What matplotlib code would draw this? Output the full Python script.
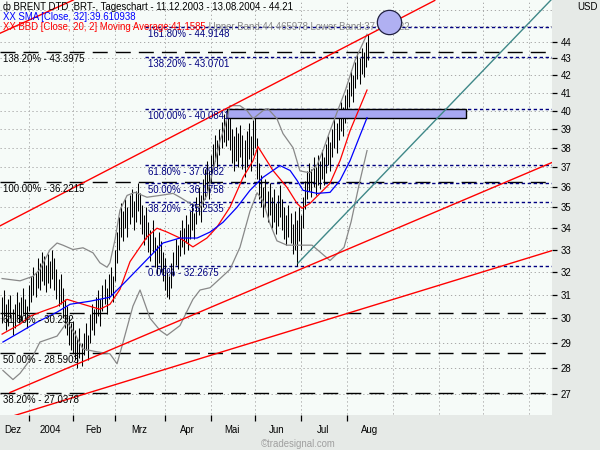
import numpy as np
import matplotlib
matplotlib.use('Agg')
import matplotlib.pyplot as plt
from matplotlib.patches import Rectangle
from matplotlib.ticker import FixedLocator, NullLocator

plt.rcParams['font.family'] = ['Liberation Sans', 'DejaVu Sans']
FS = 6.9

# daily bars 11.12.2003 - 13.08.2004, one entry per trading day
highs = [30.9, 31.2, 30.6, 30.8, 31.0, 30.4, 30.6, 31.1, 30.7, 30.9, 31.3, 30.8, 30.5,
         31.4, 31.8, 32.2, 32.0, 32.6, 32.4, 32.9, 32.7, 32.3, 32.8, 32.5, 33.0, 32.6, 32.1, 31.7, 31.9, 31.3, 30.8, 30.5, 30.1, 29.8,
         29.9, 29.5, 29.2, 29.6, 29.0, 29.4, 29.8, 29.3, 30.2, 30.6, 30.4, 30.9, 31.2, 30.8, 31.4, 31.7, 31.3, 31.9, 32.2, 31.8,
         33.0, 33.8, 34.5, 35.2, 34.8, 35.4, 35.0, 35.6, 35.9, 35.3, 35.8, 36.2, 35.7, 35.1, 34.6, 35.0, 34.3, 33.9, 34.4, 33.6, 33.2, 33.8, 33.4, 32.9,
         32.6, 32.0, 31.8, 32.4, 32.9, 33.5, 33.2, 33.9, 34.4, 34.0, 34.6, 34.2, 34.8, 35.2, 34.7, 35.5, 36.0, 35.6, 36.4, 36.9, 37.3, 36.8,
         37.6, 38.2, 38.7, 38.4, 39.0, 39.4, 39.8, 39.5, 40.08, 39.6, 39.0, 38.6, 39.1, 38.8, 39.2, 38.7, 38.4, 38.9, 39.3, 38.6, 39.5,
         40.0, 38.5, 37.2, 36.6, 36.0, 36.4, 35.8, 36.2, 35.5, 35.9, 35.2, 35.6, 36.1, 35.4, 35.0, 34.6, 35.1, 34.7, 34.2, 34.8, 34.4, 35.0,
         34.6, 35.5, 36.3, 36.8, 37.2, 36.9, 37.5, 37.0, 37.6, 37.3, 37.9, 37.5, 38.2, 38.6, 38.3, 39.0, 39.6, 39.3, 40.0, 40.5, 40.2, 40.9,
         41.2, 41.6, 42.3, 42.0, 42.8, 43.3, 43.0, 43.6, 43.4, 44.0, 44.5]
lows = [29.8, 30.1, 29.5, 29.7, 30.0, 29.3, 29.6, 30.0, 29.8, 29.9, 30.2, 29.9, 29.6,
        30.3, 30.7, 31.0, 30.9, 31.3, 31.2, 31.6, 31.4, 31.1, 31.5, 31.3, 31.7, 31.2, 30.8, 30.5, 30.6, 30.0, 29.6, 29.3, 28.9, 28.7,
        28.6, 28.3, 28.0, 28.4, 28.1, 28.5, 28.7, 28.3, 29.0, 29.5, 29.3, 29.8, 30.1, 29.7, 30.3, 30.6, 30.2, 30.8, 31.0, 30.7,
        31.6, 32.4, 33.0, 33.6, 33.4, 34.0, 33.6, 34.2, 34.5, 33.9, 34.3, 34.8, 34.2, 33.7, 33.2, 33.5, 32.9, 32.5, 32.9, 32.2, 31.9, 32.4, 32.0, 31.6,
        31.2, 30.9, 30.8, 31.3, 31.8, 32.3, 32.1, 32.7, 33.1, 32.8, 33.3, 33.0, 33.5, 33.9, 33.5, 34.2, 34.6, 34.3, 35.0, 35.4, 35.8, 35.4,
        36.2, 36.9, 37.3, 37.0, 37.6, 38.0, 38.3, 38.1, 38.4, 37.9, 37.2, 36.8, 37.3, 37.0, 37.5, 36.9, 36.5, 37.0, 37.4, 36.8, 37.6,
        38.0, 36.4, 35.4, 35.0, 34.5, 34.9, 34.3, 34.6, 34.0, 34.3, 33.7, 34.1, 34.5, 33.9, 33.5, 33.2, 33.6, 33.3, 32.8, 33.0, 32.27, 33.4,
        33.0, 34.0, 34.9, 35.4, 35.8, 35.5, 36.0, 35.6, 36.1, 35.9, 36.4, 36.1, 36.7, 37.1, 36.8, 37.5, 38.0, 37.7, 38.4, 38.9, 38.6, 39.3,
        39.6, 40.2, 40.8, 40.5, 41.3, 41.8, 41.5, 42.1, 41.9, 42.5, 42.9]

# indicator lines (trading day index, price)
sma_x = [0.4, 8.6, 16.7, 26.3, 32.5, 42.1, 51.6, 58.8, 67.4, 77.0, 85.1, 93.3, 99.5, 105.7,
         112.4, 118.6, 124.8, 133.0, 137.8, 141.1, 144.0, 150.7, 156.9, 161.7, 166.5, 171.2, 174.6]
sma_y = [29.03, 29.43, 29.84, 30.26, 30.59, 30.72, 30.89, 31.54, 32.36, 33.30, 33.53, 33.53, 33.81, 34.27,
         34.99, 35.82, 36.47, 37.07, 36.82, 36.32, 35.82, 35.67, 35.72, 36.32, 37.33, 38.64, 39.61]

bb_mid_x = [0.0, 8.6, 13.4, 19.6, 26.3, 31.1, 38.7, 46.8, 51.6, 56.4, 61.2, 69.3, 74.1, 78.9, 85.1,
            91.3, 98.0, 102.8, 109.0, 115.3, 120.1, 122.4, 129.6, 136.3, 141.1, 143.5, 147.3, 152.1,
            156.9, 161.7, 166.5, 174.6]
bb_mid_y = [29.35, 29.76, 30.09, 30.30, 30.51, 30.80, 30.59, 30.38, 30.59, 31.23, 32.45, 33.58, 33.99, 33.81, 33.53,
            33.12, 33.53, 34.04, 34.99, 36.47, 37.33, 38.06, 36.82, 35.97, 35.18, 34.94, 35.18, 35.67,
            36.17, 37.33, 38.91, 41.16]

bb_up_x = [0.0, 8.6, 14.8, 18.1, 22.9, 26.3, 29.1, 33.9, 38.7, 43.5, 46.8, 50.2, 51.6, 54.0, 56.4,
           59.8, 63.6, 69.3, 75.6, 81.8, 85.1, 89.9, 94.7, 98.0, 100.9, 104.3, 106.7, 109.0, 113.8, 117.2,
           120.1, 124.8, 127.2, 131.5, 134.4, 139.2, 142.5, 147.3, 150.7, 153.5, 156.9, 164.1, 168.9, 174.6]
bb_up_y = [31.7, 31.6, 31.8, 32.1, 32.99, 33.3, 33.2, 33.0, 33.08, 32.85, 32.4, 32.2, 32.4, 33.44, 34.85,
           35.57, 35.72, 35.48, 35.57, 35.67, 35.48, 35.18, 34.99, 35.57, 36.82, 38.38, 39.18, 40.28, 40.28, 40.0,
           39.56, 40.0, 40.11, 39.56, 38.75, 38.0, 36.8, 36.7, 37.1, 37.85, 38.9, 41.1, 42.9, 44.47]

bb_lo_x = [0.4, 5.2, 8.6, 14.8, 18.1, 26.3, 31.1, 34.9, 38.7, 45.4, 51.6, 55.0, 57.9, 62.6, 66.0,
           70.8, 75.6, 78.9, 85.1, 91.3, 94.7, 99.5, 104.3, 109.0, 113.8, 118.6, 122.0, 124.8, 128.2,
           131.5, 136.3, 141.1, 148.3, 156.9, 163.6, 167.0, 171.0, 174.6]
bb_lo_y = [27.91, 27.56, 27.80, 28.48, 29.03, 29.27, 29.84, 29.35, 28.75, 28.64, 28.56, 28.17, 29.03, 30.51, 31.2,
           30.0, 29.5, 29.3, 29.7, 30.8, 31.2, 31.3, 31.7, 32.1, 33.1, 34.8, 35.7, 35.3, 34.2,
           33.4, 33.2, 33.2, 33.2, 32.5, 33.1, 34.3, 36.2, 37.85]

# fibonacci retracement levels
fib_black_pct = ['138.20%', '100.00%', '61.80%', '50.00%', '38.20%']
fib_black_val = [43.3975, 36.2215, 30.232, 28.5903, 27.0378]
fib_navy_pct = ['161.80%', '138.20%', '100.00%', '61.80%', '50.00%', '38.20%', '0.00%']
fib_navy_val = [44.9148, 43.0701, 40.0841, 37.0982, 36.1758, 35.2535, 32.2675]
fib_navy_start = 68.4

# drawn trend lines: (day0, price0, day1, price1)
red_lines = [(-1.0, 34.1, 207.0, 46.6),
             (-1.0, 44.53, 34.1, 46.63),
             (3.8, 27.07, 263.1, 37.23),
             (3.8, 26.17, 263.1, 32.95)]
teal_line = (141.6, 32.39, 262.6, 46.63)

# marked zones
box = (107.6, 39.57, 222.0, 40.12)
circle = (184.9, 45.22)

month_starts = [13, 34, 54, 78, 100, 121, 143, 165]
future_months = [187, 209, 230, 252]
month_centres = [5.1, 23, 43.5, 65.5, 88.5, 110, 131.5, 153.5, 176]
month_names = ['Dez', '2004', 'Feb', 'Mrz', 'Apr', 'Mai', 'Jun', 'Jul', 'Aug']
price_ticks = list(range(27, 45))
grid_levels = list(range(27, 47))

fig = plt.figure(figsize=(6, 4.5), dpi=100, facecolor='#e6eae7')
ax = fig.add_axes([0, 35.3 / 450, 552 / 600, 414.7 / 450])
ax.set_facecolor('#f6fbf8')
for s in ax.spines.values():
    s.set_visible(False)

ax.set_yscale('log')
ax.set_xlim(-1.0, 263.1)
ax.set_ylim(26.25, 46.63)

grid_style = dict(color='#a8a8a8', lw=0.7, linestyle=(0, (1.3, 2.8)), zorder=0.5)
ax.hlines(grid_levels, -1.0, 263.1, **grid_style)
ax.vlines(month_starts + future_months, 26.0, 47.0, **grid_style)

# fib levels
for pct, v in zip(fib_black_pct, fib_black_val):
    ax.plot([-1.0, 263.1], [v, v], color='black', lw=1.0, linestyle=(0, (10.8, 5.8)), zorder=1.5)
    ax.annotate('%s - %s' % (pct, v), xy=(-1.0, v), xytext=(2.2, -1.5), textcoords='offset points',
                va='top', ha='left', fontsize=FS, color='black', zorder=4)
for pct, v in zip(fib_navy_pct, fib_navy_val):
    ax.plot([fib_navy_start, 263.1], [v, v], color='#000080', lw=1.0, linestyle=(0, (2.4, 1.9)), zorder=1.5)
    ax.annotate('%s - %s' % (pct, v), xy=(fib_navy_start, v), xytext=(2.2, -1.5), textcoords='offset points',
                va='top', ha='left', fontsize=FS, color='#000080', zorder=4)

# price bars
days = np.arange(len(highs))
ax.vlines(days, lows, highs, color='black', lw=0.75, zorder=2)

ax.add_patch(Rectangle((box[0], box[1]), box[2] - box[0], box[3] - box[1],
                       facecolor='#a8a8f2', edgecolor='black', lw=1.0, zorder=2.5))

ax.plot(bb_up_x, bb_up_y, color='#888888', lw=0.9, zorder=3)
ax.plot(bb_lo_x, bb_lo_y, color='#888888', lw=0.9, zorder=3)
ax.plot(bb_mid_x, bb_mid_y, color='#ff0000', lw=0.9, zorder=3)
ax.plot(sma_x, sma_y, color='#0000ff', lw=0.9, zorder=3)

for x0, y0, x1, y1 in red_lines:
    ax.plot([x0, x1], [y0, y1], color='#ff0000', lw=1.0, zorder=3.2)
ax.plot([teal_line[0], teal_line[2]], [teal_line[1], teal_line[3]], color='#3f8888', lw=1.0, zorder=3.2)

ax.plot([circle[0]], [circle[1]], marker='o', markersize=17.5, markerfacecolor='#b0b0f2',
        markeredgecolor='#202040', markeredgewidth=0.9, zorder=5)

# axes
ax.yaxis.tick_right()
ax.yaxis.set_major_locator(FixedLocator(price_ticks))
ax.yaxis.set_minor_locator(NullLocator())
ax.set_yticklabels([str(t) for t in price_ticks])
ax.tick_params(axis='y', length=3.5, width=0.9, pad=2.5, labelsize=FS, colors='black')

ax.xaxis.set_major_locator(FixedLocator(month_starts))
ax.xaxis.set_minor_locator(FixedLocator(month_centres))
ax.set_xticklabels([''] * len(month_starts))
ax.set_xticklabels(month_names, minor=True)
ax.tick_params(axis='x', which='major', length=4, width=0.9, colors='black')
ax.tick_params(axis='x', which='minor', length=0, pad=7.5, labelsize=FS)

def fpos(x, y):
    return x / 600, 1 - y / 450

fig.text(*fpos(3, 6.5), u'\u0444 BRENT DTD ;BRT-, Tageschart - 11.12.2003 - 13.08.2004 - 44.21',
         fontsize=FS, va='center', ha='left', color='black', zorder=6)
fig.text(*fpos(3, 17), 'XX SMA [Close, 32]:39.610938', fontsize=FS, va='center', ha='left', color='#0000ff')
t3 = fig.text(*fpos(3, 27.5), 'XX BBD [Close, 20, 2] Moving Average:41.1585', fontsize=FS,
              va='center', ha='left', color='#ff0000')
ax.annotate(' Upper Band:44.465978 Lower Band:37.851022', xy=(1, 0.5), xycoords=t3,
            va='center', ha='left', fontsize=FS, color='#888888', annotation_clip=False)
fig.text(*fpos(587, 7.5), 'USD', fontsize=FS, va='center', ha='center')
fig.text(*fpos(298, 444), u'\u00a9tradesignal.com', fontsize=FS, va='center', ha='center', color='#a0a0a0')

plt.savefig('out.png', dpi=100, facecolor=fig.get_facecolor())
